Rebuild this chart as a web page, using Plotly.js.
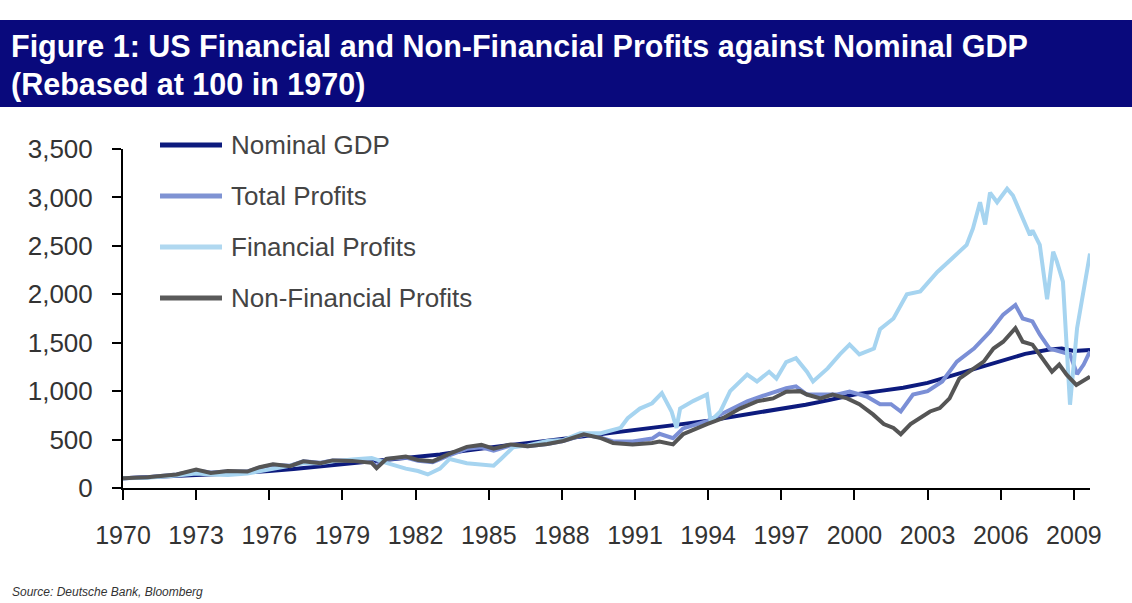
<!DOCTYPE html>
<html>
<head>
<meta charset="utf-8">
<script src="https://cdn.plot.ly/plotly-3.0.1.min.js"></script>
<style>
  html, body { margin: 0; padding: 0; background: #ffffff; }
  #chart { width: 1132px; height: 603px; }
</style>
</head>
<body>
<div id="chart"></div>
<script>
// ---- Data (rebased, 1970 = 100) ----
const gdpYears = [1970, 1971, 1972, 1973, 1974, 1975, 1976, 1977, 1978, 1979, 1980, 1981, 1982, 1983, 1984, 1985, 1986, 1987, 1988, 1989, 1990, 1991, 1992, 1993, 1994, 1995, 1996, 1997, 1998, 1999, 2000, 2001, 2002, 2003, 2004, 2005, 2006, 2007, 2008, 2008.5, 2009, 2009.66];
const gdpValues = [100, 108, 119, 133, 145, 158, 175, 195, 220, 245, 268, 298, 320, 345, 385, 420, 448, 475, 505, 545, 575, 600, 632, 662, 695, 735, 772, 812, 860, 910, 965, 1000, 1035, 1085, 1160, 1240, 1320, 1385, 1430, 1440, 1415, 1425];

const totalYears = [1970, 1971, 1972.2, 1973.0, 1973.6, 1974.3, 1975.1, 1975.6, 1976.15, 1976.85, 1977.4, 1978.1, 1978.6, 1979.4, 1980.2, 1980.4, 1980.8, 1981.6, 1982.1, 1982.7, 1983.4, 1984.1, 1984.7, 1985.2, 1985.9, 1986.6, 1987.4, 1988.05, 1988.9, 1989.6, 1990.1, 1990.9, 1991.7, 1992.0, 1992.56, 1992.97, 1993.95, 1994.8, 1995.6, 1996.4, 1997.2, 1997.6, 1998.05, 1998.6, 1999.3, 1999.8, 2000.5, 2001.05, 2001.5, 2001.9, 2002.4, 2003.0, 2003.6, 2004.2, 2004.9, 2005.56, 2006.1, 2006.6, 2006.9, 2007.3, 2007.6, 2008.0, 2008.4, 2008.84, 2009.13, 2009.4, 2009.66];
const totalValues = [100, 112, 140, 180, 160, 170, 170, 210, 240, 230, 275, 260, 285, 285, 265, 225, 300, 315, 280, 265, 340, 405, 420, 385, 440, 430, 455, 485, 550, 520, 480, 480, 510, 560, 515, 615, 690, 790, 895, 965, 1030, 1050, 965, 965, 965, 995, 945, 865, 865, 790, 965, 1000, 1100, 1305, 1440, 1615, 1790, 1890, 1750, 1720, 1585, 1440, 1410, 1380, 1175, 1275, 1410];

const finYears = [1970, 1971, 1972.2, 1973.0, 1973.6, 1974.3, 1975.1, 1975.6, 1976.15, 1976.85, 1977.4, 1978.1, 1978.6, 1979.4, 1980.2, 1980.8, 1981.6, 1982.1, 1982.5, 1983.0, 1983.4, 1984.1, 1984.7, 1985.2, 1985.5, 1986.0, 1986.6, 1987.4, 1988.05, 1988.75, 1989.6, 1990.0, 1990.4, 1990.7, 1991.2, 1991.7, 1992.1, 1992.5, 1992.7, 1992.85, 1993.4, 1993.95, 1994.1, 1994.5, 1994.9, 1995.6, 1996.0, 1996.5, 1996.8, 1997.2, 1997.6, 1998.05, 1998.3, 1998.9, 1999.4, 1999.8, 2000.2, 2000.8, 2001.05, 2001.6, 2002.15, 2002.7, 2003.4, 2004.0, 2004.6, 2004.86, 2005.15, 2005.36, 2005.56, 2005.85, 2006.26, 2006.5, 2006.9, 2007.2, 2007.3, 2007.6, 2007.9, 2008.15, 2008.3, 2008.55, 2008.84, 2009.13, 2009.66];
const finValues = [100, 105, 130, 150, 140, 135, 150, 175, 200, 230, 255, 255, 275, 295, 310, 260, 200, 175, 140, 200, 300, 255, 245, 230, 300, 420, 440, 485, 495, 565, 565, 590, 620, 720, 820, 875, 980, 790, 620, 820, 900, 965, 690, 790, 1000, 1170, 1100, 1200, 1130, 1300, 1340, 1200, 1100, 1235, 1380, 1480, 1380, 1440, 1640, 1750, 2000, 2030, 2230, 2370, 2510, 2680, 2950, 2720, 3050, 2950, 3090, 3020, 2780, 2610, 2660, 2510, 1950, 2440, 2340, 2130, 860, 1650, 2420];

const nonFinYears = [1970, 1971, 1972.2, 1973.0, 1973.6, 1974.3, 1975.1, 1975.6, 1976.15, 1976.85, 1977.4, 1978.1, 1978.6, 1979.4, 1980.2, 1980.4, 1980.8, 1981.6, 1982.1, 1982.7, 1983.4, 1984.1, 1984.7, 1985.2, 1985.9, 1986.6, 1987.4, 1988.05, 1988.9, 1989.6, 1990.1, 1990.9, 1991.7, 1992.0, 1992.56, 1992.97, 1993.95, 1994.6, 1995.3, 1996.0, 1996.66, 1997.2, 1997.77, 1998.05, 1998.6, 1999.1, 1999.7, 2000.2, 2000.76, 2001.2, 2001.6, 2001.9, 2002.3, 2002.7, 2003.1, 2003.5, 2003.9, 2004.3, 2004.7, 2005.3, 2005.7, 2006.1, 2006.6, 2006.9, 2007.3, 2007.7, 2008.1, 2008.4, 2008.7, 2009.1, 2009.66];
const nonFinValues = [100, 112, 140, 190, 155, 175, 170, 215, 245, 225, 275, 255, 285, 280, 260, 205, 300, 325, 290, 275, 355, 425, 445, 405, 450, 430, 455, 485, 555, 515, 465, 450, 465, 480, 450, 555, 660, 720, 820, 895, 925, 995, 1000, 965, 925, 965, 925, 865, 760, 660, 620, 555, 660, 720, 790, 825, 925, 1130, 1200, 1305, 1440, 1510, 1650, 1510, 1480, 1340, 1200, 1275, 1170, 1065, 1150];

const seriesNames = ["Nominal GDP", "Total Profits", "Financial Profits", "Non-Financial Profits"];
const xTickYears = [1970, 1973, 1976, 1979, 1982, 1985, 1988, 1991, 1994, 1997, 2000, 2003, 2006, 2009];
const yTickValues = [0, 500, 1000, 1500, 2000, 2500, 3000, 3500];

const titleLine1 = "Figure 1: US Financial and Non-Financial Profits against Nominal GDP";
const titleLine2 = "(Rebased at 100 in 1970)";
const sourceText = "Source: Deutsche Bank, Bloomberg";

// ---- Styles ----
const colors = ["#0d1b7e", "#7b8fd6", "#a6d4f0", "#555555"];
const legendColors = ["#0d1b7e", "#7f93d3", "#b0d8f0", "#5a5a5a"];
const xs = [gdpYears, totalYears, finYears, nonFinYears];
const ys = [gdpValues, totalValues, finValues, nonFinValues];

const W = 1132, H = 603;
const M = { l: 123, r: 42, t: 149, b: 115 };
const plotW = W - M.l - M.r, plotH = H - M.t - M.b;
const px = x => (x - M.l) / plotW;          // pixel -> paper x
const py = y => (H - M.b - y) / plotH;      // pixel -> paper y

const traces = seriesNames.map((name, i) => ({
  type: "scatter",
  mode: "lines",
  name: name,
  x: xs[i],
  y: ys[i],
  line: { color: colors[i], width: 4, shape: "linear" },
  hoverinfo: "skip"
}));

// Legend drawn as shapes + text (long line samples as in the reference)
const legendRowsY = [145, 196, 247, 298];
const legendShapes = seriesNames.map((n, i) => ({
  type: "line", xref: "paper", yref: "paper",
  x0: px(160), x1: px(222), y0: py(legendRowsY[i]), y1: py(legendRowsY[i]),
  line: { color: legendColors[i], width: 5 }
}));
const legendTexts = seriesNames.map((n, i) => ({
  text: n, xref: "paper", yref: "paper",
  x: px(229), y: py(legendRowsY[i]), xanchor: "left", yanchor: "middle",
  showarrow: false,
  font: { size: 26, color: "#444444", family: "Liberation Sans, Arial, sans-serif" }
}));

const layout = {
  width: W,
  height: H,
  margin: { l: M.l, r: M.r, t: M.t, b: M.b, pad: 0 },
  paper_bgcolor: "#ffffff",
  plot_bgcolor: "#ffffff",
  font: { family: "Liberation Sans, Arial, sans-serif", color: "#333333" },
  showlegend: false,
  xaxis: {
    range: [1970, 2009.66],
    tickmode: "array",
    tickvals: xTickYears,
    ticktext: xTickYears.map(String),
    ticks: "outside",
    ticklen: 10,
    tickwidth: 2,
    tickcolor: "#000000",
    showline: true,
    linecolor: "#000000",
    linewidth: 2,
    showgrid: false,
    zeroline: false,
    ticklabelstandoff: 14,
    tickfont: { size: 25, color: "#333333" }
  },
  yaxis: {
    range: [0, 3500],
    tickmode: "array",
    tickvals: yTickValues,
    ticktext: yTickValues.map(v => v.toLocaleString("en-US")),
    ticks: "outside",
    ticklen: 9,
    tickwidth: 2,
    tickcolor: "#000000",
    showline: true,
    linecolor: "#000000",
    linewidth: 2,
    showgrid: false,
    zeroline: false,
    ticklabelstandoff: 14,
    tickfont: { size: 26, color: "#333333" }
  },
  shapes: [
    {
      type: "rect", xref: "paper", yref: "paper", layer: "below",
      x0: px(-5), x1: px(1140), y0: py(107), y1: py(20),
      fillcolor: "#09097c", line: { width: 0 }
    }
  ].concat(legendShapes),
  annotations: [
    {
      text: "<b>" + titleLine1 + "</b>", xref: "paper", yref: "paper",
      x: px(9), y: py(46), xanchor: "left", yanchor: "middle",
      showarrow: false,
      font: { size: 30.5, color: "#ffffff", family: "Liberation Sans, Arial, sans-serif" }
    },
    {
      text: "<b>" + titleLine2 + "</b>", xref: "paper", yref: "paper",
      x: px(9), y: py(84), xanchor: "left", yanchor: "middle",
      showarrow: false,
      font: { size: 30.5, color: "#ffffff", family: "Liberation Sans, Arial, sans-serif" }
    },
    {
      text: "<i>" + sourceText + "</i>", xref: "paper", yref: "paper",
      x: px(10), y: py(592), xanchor: "left", yanchor: "middle",
      showarrow: false,
      font: { size: 12, color: "#333333", family: "Liberation Sans, Arial, sans-serif" }
    }
  ].concat(legendTexts)
};

Plotly.newPlot("chart", traces, layout, { displayModeBar: false, staticPlot: true });
</script>
</body>
</html>
